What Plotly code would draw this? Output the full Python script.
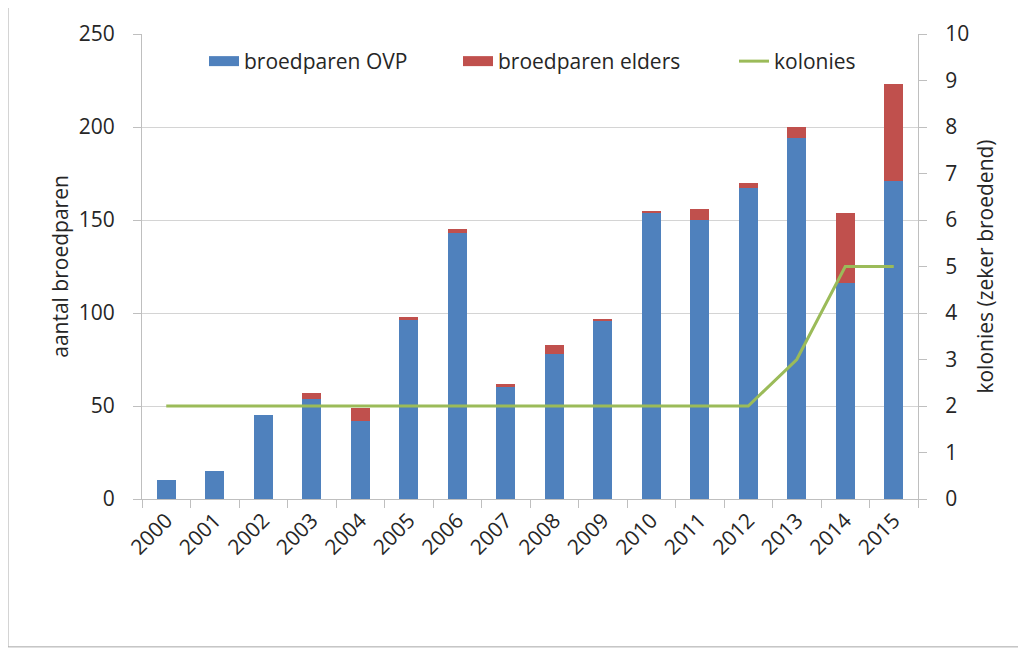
import plotly.graph_objects as go

years = ["2000", "2001", "2002", "2003", "2004", "2005", "2006", "2007",
         "2008", "2009", "2010", "2011", "2012", "2013", "2014", "2015"]
ovp = [10, 15, 45, 54, 42, 96, 143, 60, 78, 96, 154, 150, 167, 194, 116, 171]
elders = [0, 0, 0, 3, 7, 2, 2, 2, 5, 1, 1, 6, 3, 6, 38, 52]
kolonies = [2, 2, 2, 2, 2, 2, 2, 2, 2, 2, 2, 2, 2, 3, 5, 5]

names = ["broedparen OVP", "broedparen elders", "kolonies"]
colors = ["#4F81BD", "#C0504D", "#9BBB59"]

font_family = "Open Sans, Liberation Sans, sans-serif"
txt = "#262626"

fig = go.Figure()
fig.add_trace(go.Bar(x=years, y=ovp, name=names[0], marker_color=colors[0],
                     marker_line_width=0, showlegend=False, legendgroup="a"))
fig.add_trace(go.Bar(x=years, y=elders, name=names[1], marker_color=colors[1],
                     marker_line_width=0, showlegend=False, legendgroup="b"))
# legend entries drawn as wide swatches (Excel-style)
fig.add_trace(go.Scatter(x=[None], y=[None], name=names[0], mode="lines",
                         line=dict(color=colors[0], width=10), legendgroup="a",
                         legend="legend"))
fig.add_trace(go.Scatter(x=[None], y=[None], name=names[1], mode="lines",
                         line=dict(color=colors[1], width=10), legendgroup="b",
                         legend="legend2"))
fig.add_trace(go.Scatter(x=years, y=kolonies, name=names[2], mode="lines",
                         line=dict(color=colors[2], width=3), yaxis="y2",
                         legend="legend3"))

leg_common = dict(orientation="h", y=0.985, xanchor="left", yanchor="top",
                  font=dict(size=21, color=txt), bgcolor="rgba(255,255,255,0)",
                  itemwidth=30)

fig.update_layout(
    width=1026, height=648,
    margin=dict(l=134, r=116, t=26, b=157, autoexpand=False),
    barmode="stack", bargap=0.61,
    paper_bgcolor="white", plot_bgcolor="white",
    font=dict(family=font_family, color=txt, size=21),
    showlegend=True,
    legend=dict(x=0.0799, **leg_common),
    legend2=dict(x=0.4072, **leg_common),
    legend3=dict(x=0.7629, **leg_common),
    xaxis=dict(type="category", tickangle=-45, tickson="boundaries", ticks="outside",
               ticklen=8, tickcolor="#BFBFBF", showline=True, linecolor="#BFBFBF",
               linewidth=1, showgrid=False, tickfont=dict(size=21, color=txt)),
    yaxis=dict(range=[0, 250], dtick=50, showgrid=True, gridcolor="#D4D4D4",
               gridwidth=1, showline=True, linecolor="#BFBFBF", ticks="outside",
               ticklen=8, tickcolor="#BFBFBF", tickfont=dict(size=21, color=txt),
               ticklabelstandoff=14,
               title=dict(text="aantal broedparen", font=dict(size=21, color=txt),
                          standoff=4), zeroline=False),
    yaxis2=dict(range=[0, 10], dtick=1, overlaying="y", side="right", showgrid=False,
                showline=True, linecolor="#BFBFBF", ticks="outside", ticklen=8,
                tickcolor="#BFBFBF", tickfont=dict(size=21, color=txt),
                ticklabelstandoff=14,
                title=dict(text="kolonies (zeker broedend)", font=dict(size=21, color=txt),
                           standoff=10), zeroline=False),
)

fig.add_shape(type="rect", xref="paper", yref="paper",
              x0=-0.1727, x1=1.15, y0=-0.318, y1=1.058,
              line=dict(color="#A6A6A6", width=1), layer="below")

fig.write_html("out.html")
